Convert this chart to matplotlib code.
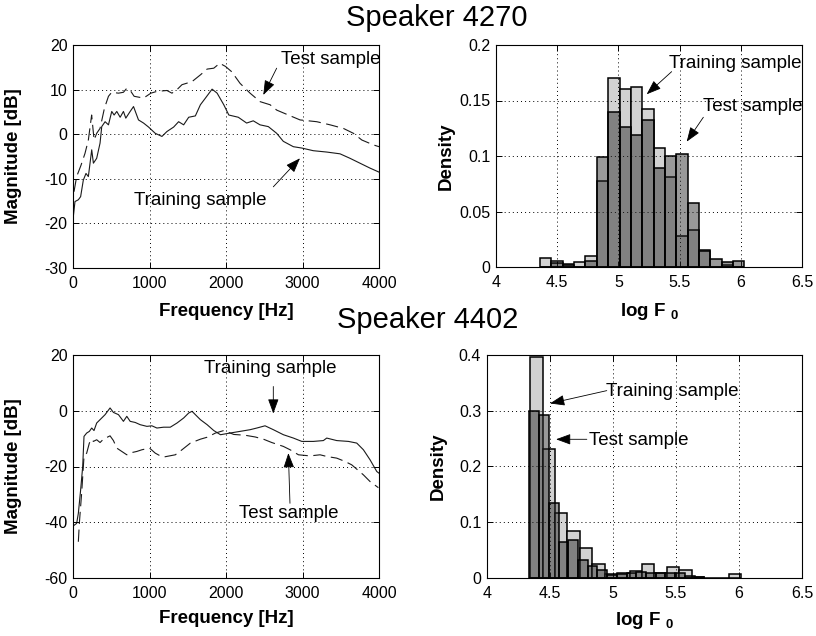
import numpy as np
import matplotlib
matplotlib.use("Agg")
import matplotlib.pyplot as plt

plt.rcParams['font.family'] = ['Liberation Sans', 'DejaVu Sans']
plt.rcParams['mathtext.fontset'] = 'custom'
plt.rcParams['mathtext.rm'] = 'Liberation Sans'
plt.rcParams['mathtext.bf'] = 'Liberation Sans:bold'
plt.rcParams['axes.unicode_minus'] = False

# ---------------- data ----------------
# Speaker 4270 spectra
s1_train_f = [0, 22, 66, 96, 131, 166, 197, 241, 263, 306, 350, 372, 416, 460, 503, 534, 569, 613, 656,
              687, 744, 788, 853, 919, 985, 1072, 1160, 1225, 1313, 1378, 1444, 1510, 1597, 1663, 1729,
              1816, 1882, 1969, 2035, 2159, 2268, 2355, 2443, 2552, 2661, 2748, 2879, 2988, 3140, 3315,
              3490, 3620, 3751, 3882, 4000]
s1_train_db = [-18.5, -15.1, -14.7, -14.0, -10.3, -8.8, -9.5, -3.5, -6.5, -5.4, -2.0, 1.7, 2.8, 2.1, 5.1,
               4.3, 5.1, 3.8, 5.1, 3.6, 5.1, 6.2, 3.2, 2.5, 1.6, 0.2, -0.5, 0.6, 1.6, 2.8, 2.1, 3.8, 4.1,
               6.6, 8.1, 10.1, 9.2, 6.6, 4.3, 3.8, 2.5, 3.0, 2.1, 1.7, 0.2, -1.6, -2.8, -3.1, -3.7, -4.0,
               -4.4, -5.4, -6.5, -7.6, -8.5]
s1_test_f = [9, 44, 100, 153, 197, 240, 272, 306, 350, 407, 460, 503, 591, 656, 700, 753, 796, 919, 963,
             1015, 1094, 1225, 1291, 1357, 1422, 1554, 1663, 1751, 1838, 1916, 1991, 2073, 2182, 2313,
             2444, 2575, 2662, 2814, 2967, 3186, 3360, 3534, 3665, 3775, 3927, 4000]
s1_test_db = [-12.9, -9.5, -7.0, -4.3, -1.3, 4.3, -1.3, 0.2, 1.3, 5.8, 8.5, 9.4, 9.2, 9.4, 10.3, 9.6, 8.5,
              8.1, 8.6, 9.2, 9.6, 9.8, 9.2, 10.0, 11.1, 11.8, 13.3, 14.6, 14.8, 15.9, 15.2, 14.0, 11.4,
              9.2, 7.3, 6.6, 5.4, 4.3, 3.2, 2.8, 2.1, 1.3, 0.2, -1.3, -2.4, -2.8]

# Speaker 4402 spectra
s2_train_f = [0, 44, 66, 96, 123, 140, 175, 210, 241, 271, 306, 350, 416, 481, 525, 591, 656, 700, 744,
              810, 875, 963, 1028, 1094, 1182, 1269, 1357, 1444, 1510, 1554, 1597, 1663, 1751, 1838,
              1926, 2051, 2182, 2313, 2401, 2509, 2618, 2749, 2880, 2990, 3141, 3272, 3316, 3447, 3600,
              3709, 3796, 3883, 3971, 4000]
s2_train_db = [-41.3, -40.4, -36.8, -28.4, -20.0, -9.2, -8.0, -7.4, -6.2, -7.1, -4.4, -3.2, -1.4, 1.0,
               -0.6, -1.4, -3.8, -2.0, -3.8, -4.2, -5.0, -5.6, -5.4, -6.2, -5.9, -5.9, -4.4, -2.6, -0.8,
               -0.2, -1.4, -3.2, -5.0, -7.1, -8.6, -8.0, -7.4, -6.8, -6.2, -5.4, -6.8, -8.6, -9.8, -11.0,
               -11.0, -10.7, -9.8, -10.7, -11.0, -11.6, -14.0, -17.6, -21.8, -22.4]
s2_test_f = [66, 79, 109, 140, 175, 210, 241, 263, 306, 350, 394, 481, 525, 569, 700, 766, 831, 897, 998,
             1072, 1138, 1182, 1335, 1422, 1532, 1663, 1751, 1860, 1969, 2100, 2250, 2379, 2488, 2597,
             2749, 2837, 2946, 3098, 3229, 3316, 3447, 3556, 3643, 3796, 3883, 3992]
s2_test_db = [-47.0, -40.4, -29.6, -16.4, -15.2, -11.6, -10.2, -11.0, -10.4, -11.4, -10.2, -9.0, -10.7,
              -13.4, -15.8, -15.0, -14.6, -14.0, -13.4, -15.2, -16.2, -16.6, -15.8, -14.0, -11.6, -10.2,
              -9.5, -8.0, -7.1, -8.5, -8.8, -9.4, -10.2, -11.4, -12.8, -14.0, -15.8, -16.2, -15.8, -16.4,
              -17.0, -18.2, -19.4, -23.0, -25.4, -27.6]

# Speaker 4270 log F0 histograms (shared bin edges)
h1_edges = [4.360, 4.453, 4.546, 4.638, 4.731, 4.824, 4.917, 5.010, 5.102, 5.195, 5.288, 5.381, 5.474,
            5.566, 5.659, 5.752, 5.845, 5.938, 6.030]
h1_train = [0.0078, 0.0054, 0.0024, 0.0042, 0.0102, 0.0778, 0.170, 0.160, 0.1625, 0.142, 0.107, 0.081,
            0.028, 0.033, 0.015, 0.0, 0.002, 0.0]
h1_test = [0.0, 0.004, 0.002, 0.0, 0.0057, 0.0994, 0.140, 0.126, 0.119, 0.132, 0.0895, 0.100, 0.102,
           0.058, 0.014, 0.0072, 0.0045, 0.0057]

# Speaker 4402 log F0 histograms
h2_train_edges = [4.345, 4.4435, 4.542, 4.6405, 4.739, 4.8375, 4.936, 5.0345, 5.133, 5.2315, 5.330,
                  5.4285, 5.527, 5.6255, 5.724, 5.8225, 5.921, 6.0195]
h2_train = [0.396, 0.231, 0.1156, 0.083, 0.053, 0.024, 0.007, 0.009, 0.0125, 0.024, 0.008, 0.0198,
            0.0138, 0.001, 0.0, 0.0, 0.006]
h2_test_edges = [4.339, 4.416, 4.493, 4.570, 4.647, 4.724, 4.801, 4.878, 4.955, 5.032, 5.109, 5.186,
                 5.263, 5.340, 5.417, 5.494, 5.571, 5.648, 5.725]
h2_test = [0.299, 0.292, 0.134, 0.065, 0.068, 0.032, 0.021, 0.014, 0.005, 0.006, 0.008, 0.010, 0.008,
           0.008, 0.008, 0.008, 0.003, 0.001]

titles = ['Speaker 4270', 'Speaker 4402']

# ---------------- figure ----------------
fig = plt.figure(figsize=(8.16, 6.36), dpi=100)
W, H = 816.0, 636.0


def ax_px(x0, y0, x1, y1):
    return fig.add_axes([x0 / W, 1 - y1 / H, (x1 - x0) / W, (y1 - y0) / H])


ax_tl = ax_px(73.3, 45, 379, 268)
ax_tr = ax_px(496, 45, 802, 267)
ax_bl = ax_px(73.3, 355, 379, 578)
ax_br = ax_px(486.7, 355, 802, 577.7)

TICK_FS = 11.5
LAB_FS = 13.5
ANN_FS = 13.5

grid_kw = dict(color='black', linestyle=(0, (1, 3.2)), linewidth=0.7)


def style(ax):
    ax.tick_params(direction='in', top=True, right=True, length=4, width=0.7,
                   labelsize=TICK_FS)
    ax.tick_params(axis='x', pad=6)
    ax.tick_params(axis='y', pad=4)
    for s in ax.spines.values():
        s.set_linewidth(0.8)
    ax.grid(True, **grid_kw)
    ax.set_axisbelow(False)


line_kw = dict(color='#1a1a1a', linewidth=0.8)
dash_kw = dict(color='#1a1a1a', linewidth=0.8, linestyle=(0, (11, 5)))

arrow_kw = dict(arrowstyle='-|>,head_length=0.6,head_width=0.22', color='black', lw=0.6,
                shrinkA=0, shrinkB=0, mutation_scale=15)


def arrow(ax, tip, tail):
    ax.annotate('', xy=tip, xytext=tail, arrowprops=arrow_kw, zorder=6)


# --- top-left: spectra speaker 4270
ax = ax_tl
ax.plot(s1_train_f, s1_train_db, **line_kw)
ax.plot(s1_test_f, s1_test_db, **dash_kw)
ax.set_xlim(0, 4000)
ax.set_ylim(-30, 20)
ax.set_xticks([0, 1000, 2000, 3000, 4000])
ax.set_yticks([-30, -20, -10, 0, 10, 20])
style(ax)
ax.set_xlabel('Frequency [Hz]', fontsize=LAB_FS, fontweight='bold')
ax.set_ylabel('Magnitude [dB]', fontsize=LAB_FS, fontweight='bold')
ax.xaxis.set_label_coords(0.5, -0.155)
ax.yaxis.set_label_coords(-0.168, 0.5)
ax.text(3368, 16.7, 'Test sample', fontsize=ANN_FS, ha='center', va='center')
arrow(ax, (2486, 8.8), (2661, 14.8))
ax.text(1658, -14.8, 'Training sample', fontsize=ANN_FS, ha='center', va='center')
arrow(ax, (2966, -5.4), (2617, -11.8))

# --- bottom-left: spectra speaker 4402
ax = ax_bl
ax.plot(s2_train_f, s2_train_db, **line_kw)
ax.plot(s2_test_f, s2_test_db, **dash_kw)
ax.set_xlim(0, 4000)
ax.set_ylim(-60, 20)
ax.set_xticks([0, 1000, 2000, 3000, 4000])
ax.set_yticks([-60, -40, -20, 0, 20])
style(ax)
ax.set_xlabel('Frequency [Hz]', fontsize=LAB_FS, fontweight='bold')
ax.set_ylabel('Magnitude [dB]', fontsize=LAB_FS, fontweight='bold')
ax.xaxis.set_label_coords(0.5, -0.145)
ax.yaxis.set_label_coords(-0.168, 0.5)
ax.text(2574, 15.3, 'Training sample', fontsize=ANN_FS, ha='center', va='center')
arrow(ax, (2617, -1.0), (2617, 8.7))
ax.text(2814, -36.8, 'Test sample', fontsize=ANN_FS, ha='center', va='center')
arrow(ax, (2814, -15.2), (2835, -33.2))

# --- histograms
train_fc = '#d2d2d2'
test_fc = (0.15, 0.15, 0.15, 0.47)
bar_ec = 'black'
bar_lw = 1.1


def hist_bars(ax, edges, heights, fc, z):
    e = np.asarray(edges)
    ax.bar(e[:-1], heights, width=np.diff(e), align='edge', facecolor=fc,
           edgecolor=bar_ec, linewidth=bar_lw, zorder=z)


ax = ax_tr
hist_bars(ax, h1_edges, h1_train, train_fc, 2)
hist_bars(ax, h1_edges, h1_test, test_fc, 3)
ax.set_xlim(4, 6.5)
ax.set_ylim(0, 0.2)
ax.set_xticks([4, 4.5, 5, 5.5, 6, 6.5])
ax.set_xticklabels(['4', '4.5', '5', '5.5', '6', '6.5'])
ax.set_yticks([0, 0.05, 0.1, 0.15, 0.2])
ax.set_yticklabels(['0', '0.05', '0.1', '0.15', '0.2'])
style(ax)
ax.set_xlabel(r'log F $_{\mathbf{0}}$', fontsize=LAB_FS, fontweight='bold')
ax.set_ylabel('Density', fontsize=LAB_FS, fontweight='bold')
ax.xaxis.set_label_coords(0.5, -0.153)
ax.yaxis.set_label_coords(-0.134, 0.5)
ax.text(5.958, 0.1835, 'Training sample', fontsize=ANN_FS, ha='center', va='center', zorder=7)
arrow(ax, (5.231, 0.1556), (5.435, 0.176))
ax.text(6.10, 0.1444, 'Test sample', fontsize=ANN_FS, ha='center', va='center', zorder=7)
arrow(ax, (5.558, 0.1129), (5.694, 0.1349))

ax = ax_br
hist_bars(ax, h2_train_edges, h2_train, train_fc, 2)
hist_bars(ax, h2_test_edges, h2_test, test_fc, 3)
ax.set_xlim(4, 6.5)
ax.set_ylim(0, 0.4)
ax.set_xticks([4, 4.5, 5, 5.5, 6, 6.5])
ax.set_xticklabels(['4', '4.5', '5', '5.5', '6', '6.5'])
ax.set_yticks([0, 0.1, 0.2, 0.3, 0.4])
ax.set_yticklabels(['0', '0.1', '0.2', '0.3', '0.4'])
style(ax)
ax.set_xlabel(r'log F $_{\mathbf{0}}$', fontsize=LAB_FS, fontweight='bold')
ax.set_ylabel('Density', fontsize=LAB_FS, fontweight='bold')
ax.xaxis.set_label_coords(0.5, -0.146)
ax.yaxis.set_label_coords(-0.126, 0.5)
ax.text(5.468, 0.334, 'Training sample', fontsize=ANN_FS, ha='center', va='center', zorder=7)
arrow(ax, (4.502, 0.313), (4.952, 0.336))
ax.text(5.203, 0.2473, 'Test sample', fontsize=ANN_FS, ha='center', va='center', zorder=7)
arrow(ax, (4.55, 0.2486), (4.794, 0.2486))

fig.text(436.5 / W, 1 - 18.5 / H, titles[0], fontsize=21, ha='center', va='center')
fig.text(428 / W, 1 - 320 / H, titles[1], fontsize=21, ha='center', va='center')

fig.savefig('out.png', dpi=100)
